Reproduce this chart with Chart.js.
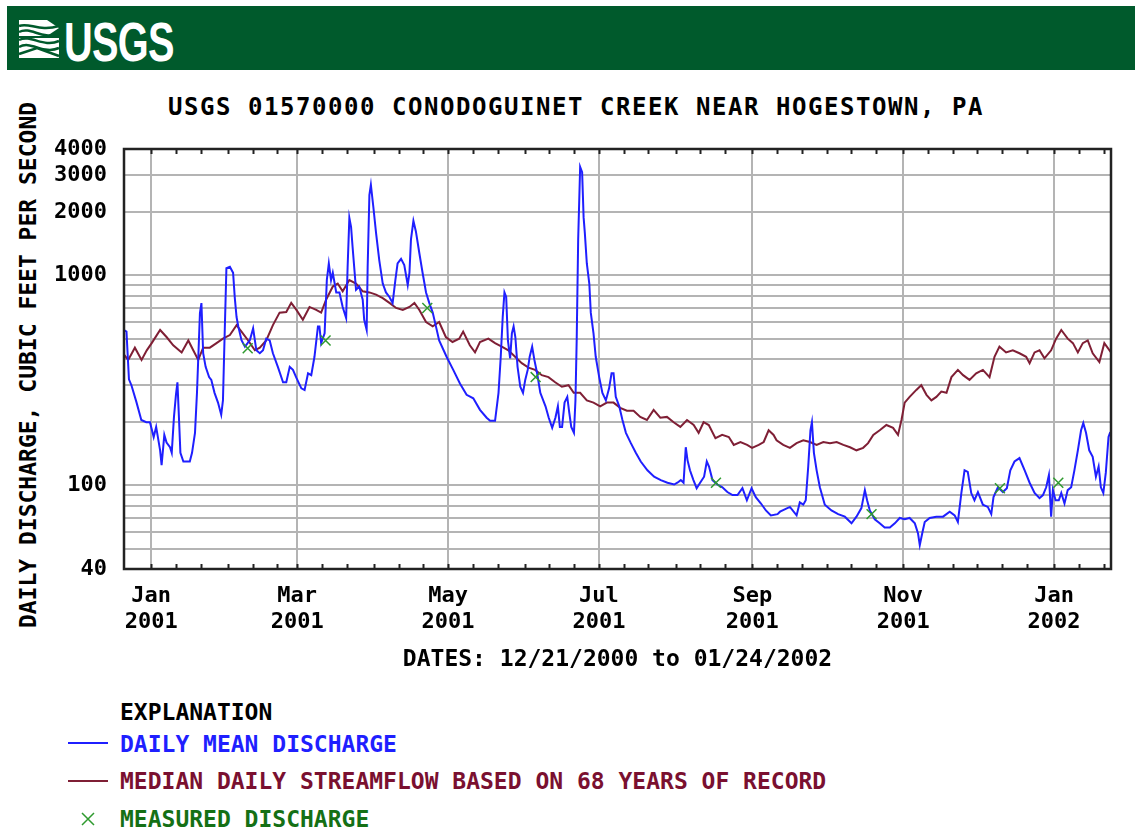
<!DOCTYPE html>
<html>
<head>
<meta charset="utf-8">
<title>USGS 01570000 Conodoguinet Creek</title>
<script src="https://cdn.jsdelivr.net/npm/chart.js@4.4.1/dist/chart.umd.min.js"></script>
<style>
  html, body { margin: 0; padding: 0; background: #fff; }
  body { width: 1135px; height: 830px; position: relative; overflow: hidden; }
  .mono { font-family: 'DejaVu Sans Mono', monospace; font-weight: bold; white-space: nowrap; position: absolute; }
  #banner { position: absolute; left: 7px; top: 6px; width: 1128px; height: 64px; background: #005a2c; }
  #banner svg { position: absolute; left: 10px; top: 12px; }
  #banner .usgs { position: absolute; left: 57px; top: 3px; font-family: 'Liberation Sans', Arial, sans-serif; font-weight: bold;
    font-size: 56px; color: #fff; transform: scaleX(0.71); transform-origin: left center; letter-spacing: -1px; }
  #title { left: 576px; top: 107px; transform: translate(-50%, -50%); font-size: 24px; letter-spacing: 1.55px; color: #000; }
  #ytitle { left: 28px; top: 365px; transform: translate(-50%, -50%) rotate(-90deg); font-size: 23px; color: #000; }
  #chart { position: absolute; left: 0; top: 80px; }
  .leg { font-size: 23px; transform: translateY(-50%); left: 120px; }
  .swatch { position: absolute; left: 68px; width: 40px; height: 2px; }
</style>
</head>
<body>

<div id="banner">
  <svg width="44" height="42" viewBox="0 0 44 42">
    <path d="M2 2 H30 L42 10 L30 18 H2 Z" fill="#fff"/>
    <path d="M2 20 H42 V40 H2 Z" fill="#fff"/>
    <path d="M2 8 C12 4 22 14 42 8" stroke="#005a2c" stroke-width="2.5" fill="none"/>
    <path d="M2 14 C14 8 24 22 42 16" stroke="#005a2c" stroke-width="2.5" fill="none"/>
    <path d="M2 22 C14 16 26 30 42 23" stroke="#005a2c" stroke-width="2.5" fill="none"/>
    <path d="M2 29 C14 22 26 37 42 30" stroke="#005a2c" stroke-width="2.5" fill="none"/>
    <path d="M2 36 L20 30 L42 38" stroke="#005a2c" stroke-width="2.5" fill="none"/>
  </svg>
  <span class="usgs">USGS</span>
</div>

<div id="title" class="mono">USGS 01570000 CONODOGUINET CREEK NEAR HOGESTOWN, PA</div>
<div id="ytitle" class="mono">DAILY DISCHARGE, CUBIC FEET PER SECOND</div>

<canvas id="chart" width="1135" height="600"></canvas>

<div class="mono leg" style="top:712px;color:#000;">EXPLANATION</div>
<div class="swatch" style="top:742px;background:#1f1fff;"></div>
<div class="mono leg" style="top:744px;color:#1f1fff;">DAILY MEAN DISCHARGE</div>
<div class="swatch" style="top:780px;background:#7f1f35;"></div>
<div class="mono leg" style="top:781px;color:#7a1030;">MEDIAN DAILY STREAMFLOW BASED ON 68 YEARS OF RECORD</div>
<svg style="position:absolute;left:81px;top:812px;" width="14" height="14" viewBox="0 0 14 14">
  <path d="M1 1 L13 13 M13 1 L1 13" stroke="#2f9a2f" stroke-width="1.5"/>
</svg>
<div class="mono leg" style="top:819px;color:#157015;">MEASURED DISCHARGE</div>

<script>
// Conodoguinet Creek hydrograph, 12/21/2000 - 01/24/2002
// x = days since 12/21/2000, y = cubic feet per second (log)

// ========== 数据 ==========

// daily mean discharge (blue)
const flowDays = [
  0, 1, 2, 3, 5, 7, 9, 10.5, 12, 13, 14.6, 15.2, 16.3, 17.2, 18.6, 19.3, 20.2, 21, 21.6, 22.2,
  22.8, 24, 26.6, 27.5, 28.7, 29.5, 30.7, 31.3, 32, 33, 34.4, 35.3, 36.6, 38, 39.3, 40, 40.7, 41.4, 42.8, 44.1,
  44.8, 45.5, 46.2, 47.5, 48.9, 50.9, 52.2, 53.5, 54.9, 56.2, 57.5, 58.9, 60.2, 62.2, 64.3, 65.6, 67, 68.3, 69.7, 71.7,
  73, 74.4, 75.7, 77, 78.4, 79, 79.7, 81.1, 82, 82.8, 83.7, 84.4, 85.8, 87.1, 88.4, 89.8, 90.4, 91.1, 91.8, 92.4,
  93.8, 95.1, 96.5, 97.1, 98.1, 98.5, 99.2, 99.8, 100.8, 101.9, 103.2, 104.6, 105.9, 107.3, 108.6, 109.7, 110.6, 112, 113.3, 114.7,
  115.4, 116, 117, 118, 119.4, 120.7, 122.1, 123.4, 124.8, 126.1, 127.4, 130.4, 133.1, 135.8, 138.5, 141.2, 143.9, 146.6, 148, 150,
  151.4, 152.3, 153.1, 153.8, 154.5, 155.2, 156.1, 156.8, 157.5, 158.2, 159.1, 160.2, 161.3, 162.2, 163.2, 164, 165, 165.9, 167, 168.3,
  170.4, 171.7, 173.1, 174.4, 175.4, 176.2, 177.1, 178.1, 179.2, 180, 180.8, 181.9, 182.5, 183, 183.6, 184.4, 185.2, 185.8, 186.3, 187.1,
  188.1, 188.7, 189.8, 190.7, 192.1, 193.4, 194.8, 196.1, 197.1, 197.9, 198.8, 200.2, 201.5, 202.9, 204.9, 206.9, 208.9, 211.6, 214.3, 217,
  219.7, 222.4, 223.7, 225.1, 226.2, 227.1, 227.8, 228.8, 230.2, 231.5, 232.9, 234.5, 235.6, 236.5, 237.9, 239.9, 241.9, 243.9, 246, 248,
  250, 251.8, 253.7, 255.4, 257.5, 259.5, 261.5, 264.2, 265.2, 269.2, 271.9, 273.2, 274.6, 275.6, 276.6, 277.5, 278.1, 278.9, 280, 281.3,
  283.3, 286, 288.7, 291.4, 294.1, 296.1, 298.1, 299.5, 300.4, 301.5, 303.5, 305.5, 307.5, 309.6, 311.6, 313.6, 315.6, 317.6, 319.7, 321,
  321.7, 322.8, 323.7, 325.7, 328.4, 331.1, 333.8, 335.8, 337.1, 338.5, 339.8, 341.1, 342.5, 343.8, 345.2, 347.2, 349.2, 350.6, 351.5, 353.3,
  355.3, 356.9, 358.3, 360, 362, 364.1, 366.1, 368.1, 370.1, 371.5, 372.8, 373.9, 374.8, 375.5, 376.6, 377.9, 378.9, 380.2, 381.5, 382.9,
  384.2, 385.6, 386.9, 387.8, 388.9, 390.2, 391.6, 392.9, 394, 394.9, 395.9, 396.9, 398, 398.6, 399
];
const flowCfs = [
  550, 540, 320, 300, 250, 205, 200, 200, 170, 190, 147, 125, 174, 160, 152, 143, 212, 270, 310, 212,
  143, 130, 130, 143, 178, 276, 662, 738, 426, 367, 328, 318, 276, 248, 217, 254, 530, 1084, 1100, 1030,
  780, 634, 572, 492, 458, 492, 560, 440, 426, 440, 500, 490, 426, 367, 310, 310, 367, 355, 325, 290,
  285, 342, 335, 410, 572, 572, 476, 530, 952, 1140, 950, 1030, 830, 830, 708, 627, 1100, 1880, 1700, 1370,
  855, 885, 766, 615, 550, 1100, 2415, 2700, 2118, 1592, 1180, 915, 830, 790, 740, 950, 1140, 1200, 1120, 900,
  1030, 1480, 1820, 1620, 1275, 1030, 830, 740, 665, 572, 490, 410, 355, 306, 270, 260, 229, 210, 203, 203,
  276, 410, 634, 830, 790, 490, 403, 530, 572, 509, 367, 295, 276, 318, 355, 410, 458, 396, 342, 276,
  238, 210, 188, 210, 238, 190, 190, 248, 264, 222, 190, 178, 254, 490, 1480, 3285, 3100, 1890, 1590, 1140,
  915, 665, 530, 410, 328, 276, 254, 290, 342, 342, 264, 238, 205, 178, 159, 143, 130, 118, 110, 106,
  103, 101, 103, 106, 103, 152, 132, 118, 106, 97, 103, 110, 130, 123, 106, 101, 98, 93, 90, 90,
  97, 85, 97, 88, 82, 76, 72, 73, 75, 79, 72, 83, 81, 85, 123, 183, 200, 143, 118, 98,
  81, 76, 73, 71, 66, 71, 78, 95, 85, 76, 69, 66, 63, 63, 66, 70, 69, 70, 66, 59,
  52, 60, 67, 70, 71, 71, 75, 72, 67, 92, 118, 116, 92, 85, 93, 81, 79, 73, 88, 98,
  93, 97, 118, 130, 135, 118, 103, 92, 87, 90, 98, 112, 71, 95, 85, 85, 92, 82, 95, 98,
  118, 147, 183, 198, 178, 147, 137, 110, 123, 98, 92, 115, 170, 178, 180
];

// median daily streamflow, 68 years (maroon)
const medianDays = [
  0, 1.7, 4.4, 7.1, 9.2, 11.2, 14.6, 17.2, 19.9, 23.3, 26, 28, 30, 32, 34.7, 37.4, 40, 42.8, 45.5, 47.5,
  50.2, 52.9, 54.9, 57.5, 60.2, 62.9, 65.6, 67.6, 69.7, 72.3, 75, 77.7, 79.7, 81.7, 84.4, 86.4, 88.4, 91.1, 93.8, 96.5,
  99.2, 101.9, 104.6, 107.3, 110, 112.7, 115.4, 117.4, 119.4, 122.1, 124.8, 127.4, 130.1, 132.8, 135.5, 137.1, 139.8, 141.9, 143.9, 147.3,
  150, 152.7, 155.4, 158.1, 160.8, 163.5, 166.2, 168.9, 171.6, 174.3, 177, 179.7, 181.8, 184.4, 187.1, 189.8, 192.5, 195.2, 197.9, 200.6,
  203.3, 206, 208.7, 211.4, 214.1, 216.8, 219.5, 222.2, 224.9, 227.6, 230.3, 232.3, 234.3, 236.4, 239.1, 241.8, 244.5, 246.5, 249.2, 251.9,
  253.9, 256.6, 258.6, 260.6, 262.6, 263.8, 266.5, 269.2, 271.9, 274.6, 277.3, 280, 282.7, 285.4, 288.1, 290.8, 293.5, 296.1, 298.8, 300.8,
  302.9, 305.5, 308.2, 310.9, 312.9, 314.3, 315.6, 317.6, 320.3, 322.3, 324.4, 326.4, 328.4, 330.4, 332.5, 334.5, 337.1, 339.2, 341.8, 344.5,
  347.2, 349.9, 351.9, 353.9, 356.6, 359.3, 362, 364.7, 366.1, 368.1, 370.1, 372.1, 374.8, 376.8, 378.9, 381.5, 383.6, 385.6, 387.6, 389.6,
  391.6, 394.3, 396.3, 399
];
const medianCfs = [
  420, 396, 453, 396, 440, 476, 550, 509, 465, 430, 490, 440, 396, 453, 453, 476, 500, 520, 580, 540,
  490, 440, 453, 490, 580, 665, 670, 740, 685, 615, 708, 685, 665, 766, 885, 915, 840, 950, 915, 840,
  830, 810, 780, 740, 700, 685, 708, 740, 685, 600, 572, 600, 509, 482, 500, 540, 465, 430, 482, 500,
  476, 458, 440, 410, 382, 364, 355, 335, 328, 310, 295, 300, 276, 276, 254, 248, 238, 248, 248, 234,
  227, 227, 212, 205, 229, 210, 212, 200, 190, 205, 194, 178, 200, 194, 168, 174, 170, 156, 161, 156,
  151, 156, 161, 183, 174, 164, 156, 151, 159, 164, 161, 156, 161, 159, 161, 156, 152, 147, 151, 159,
  174, 183, 194, 188, 174, 205, 248, 264, 285, 300, 270, 254, 264, 280, 276, 328, 355, 335, 318, 342,
  355, 328, 410, 458, 430, 440, 426, 410, 382, 430, 440, 403, 440, 500, 550, 500, 476, 430, 476, 490,
  426, 387, 476, 430
];

// measured discharge (green x)
const measuredDays = [50, 81.5, 122.6, 166.4, 239.3, 302.2, 354.1, 377.7];
const measuredCfs = [450, 490, 700, 328, 103, 73, 97, 103];

// x 轴刻度: 每两个月的1日
const tickDays = [11, 70, 131, 192, 254, 315, 376];
const tickMonths = ['Jan', 'Mar', 'May', 'Jul', 'Sep', 'Nov', 'Jan'];
const tickYears = ['2001', '2001', '2001', '2001', '2001', '2001', '2002'];

// y 轴网格与标签
const yGrid = [40, 50, 60, 70, 80, 90, 100, 200, 300, 400, 500, 600, 700, 800, 900, 1000, 2000, 3000, 4000];
const yLabels = [40, 100, 1000, 2000, 3000, 4000];

const TOTAL_DAYS = 399;
const GRID_COLOR = '#b4b4b4';
const TICK_FONT = { family: "'DejaVu Sans Mono', monospace", weight: 'bold', size: 22, lineHeight: 1.2 };

// small inward ticks on the 1st, 11th and 21st of every month
function minorTickDays() {
  const start = Date.UTC(2000, 11, 21);
  const out = [];
  for (let y = 2000; y <= 2002; y++) {
    for (let m = 0; m < 12; m++) {
      [1, 11, 21].forEach(dd => {
        const d = (Date.UTC(y, m, dd) - start) / 86400000;
        if (d > 0 && d < TOTAL_DAYS) out.push(d);
      });
    }
  }
  return out;
}

// 边框 + 内侧小刻度
const framePlugin = {
  id: 'frame',
  afterDraw(chart) {
    const { ctx, chartArea: a, scales } = chart;
    ctx.save();
    ctx.strokeStyle = '#222';
    ctx.lineWidth = 2;
    minorTickDays().forEach(d => {
      const x = Math.round(scales.x.getPixelForValue(d)) + 0.5;
      ctx.beginPath();
      ctx.moveTo(x, a.bottom); ctx.lineTo(x, a.bottom - 5);
      ctx.moveTo(x, a.top); ctx.lineTo(x, a.top + 5);
      ctx.stroke();
    });
    ctx.lineWidth = 2.5;
    ctx.strokeRect(a.left, a.top, a.right - a.left, a.bottom - a.top);
    ctx.restore();
  }
};

const toPoints = (xs, ys) => xs.map((x, i) => ({ x: x, y: ys[i] }));

new Chart(document.getElementById('chart').getContext('2d'), {
  type: 'line',
  data: {
    datasets: [
      {
        type: 'scatter',
        data: toPoints(measuredDays, measuredCfs),
        pointStyle: 'crossRot',
        pointRadius: 7,
        borderColor: '#2f9a2f',
        borderWidth: 1.5,
        order: 0
      },
      {
        data: toPoints(flowDays, flowCfs),
        borderColor: '#1f1fff',
        borderWidth: 2,
        pointRadius: 0,
        tension: 0,
        order: 1
      },
      {
        data: toPoints(medianDays, medianCfs),
        borderColor: '#7f1f35',
        borderWidth: 2,
        pointRadius: 0,
        tension: 0,
        order: 2
      }
    ]
  },
  options: {
    responsive: false,
    animation: false,
    layout: { padding: { top: 69, right: 24, left: 0, bottom: 0 }, autoPadding: false },
    plugins: { legend: { display: false }, tooltip: { enabled: false } },
    scales: {
      x: {
        type: 'linear',
        min: 0,
        max: TOTAL_DAYS,
        afterBuildTicks: (s) => { s.ticks = tickDays.map(v => ({ value: v })); },
        afterFit: (s) => { s.height = 111; },
        ticks: {
          autoSkip: false,
          maxRotation: 0,
          padding: 14,
          color: '#000',
          font: TICK_FONT,
          callback: (v, i) => [tickMonths[i], tickYears[i]]
        },
        grid: { color: GRID_COLOR, lineWidth: 2, drawTicks: false },
        border: { display: false },
        title: {
          display: true,
          text: 'DATES: 12/21/2000 to 01/24/2002',
          color: '#000',
          padding: { top: 0, bottom: 6 },
          font: { family: "'DejaVu Sans Mono', monospace", weight: 'bold', size: 23, lineHeight: 1.2 }
        }
      },
      y: {
        type: 'logarithmic',
        min: 40,
        max: 4000,
        afterBuildTicks: (s) => { s.ticks = yGrid.map(v => ({ value: v })); },
        afterFit: (s) => { s.width = 124; },
        ticks: {
          autoSkip: false,
          padding: 17,
          color: '#000',
          font: TICK_FONT,
          callback: (v) => yLabels.includes(v) ? String(v) : ''
        },
        grid: {
          color: (c) => (c.tick && (c.tick.value === 40 || c.tick.value === 4000)) ? 'rgba(0,0,0,0)' : GRID_COLOR,
          lineWidth: 2,
          drawTicks: false
        },
        border: { display: false }
      }
    }
  },
  plugins: [framePlugin]
});
</script>
</body>
</html>
